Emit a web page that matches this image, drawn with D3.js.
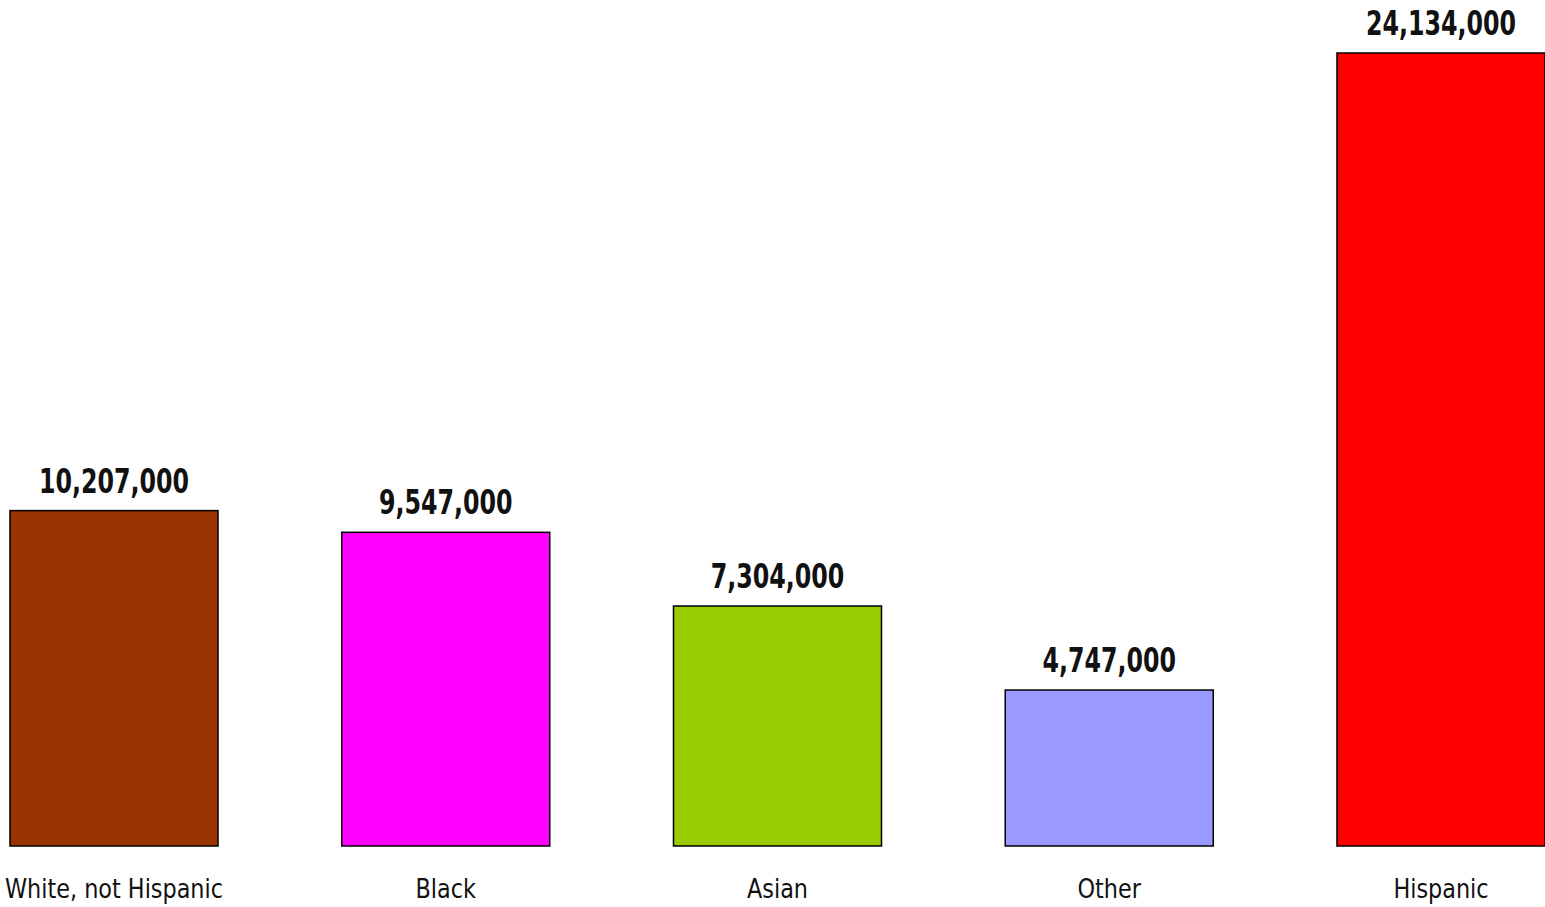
<!DOCTYPE html>
<html><head><meta charset="utf-8">
<script src="https://cdn.jsdelivr.net/npm/d3@7"></script>
<style>html,body{margin:0;padding:0;background:#fff;}svg{display:block;}</style>
</head><body>
<svg id="chart" width="1545" height="907"></svg>
<script>
const categories = ["White, not Hispanic", "Black", "Asian", "Other", "Hispanic"];
const values = [10207000, 9547000, 7304000, 4747000, 24134000];
const colors = ["#993300", "#ff00ff", "#99cc00", "#9999ff", "#ff0000"];

const svg = d3.select("#chart");
const baseY = 846, topY = 53;
const x = d3.scaleBand().domain(categories).range([10, 1545]).paddingInner(0.373).paddingOuter(0);
const y = d3.scaleLinear().domain([0, 24134000]).range([baseY, topY]);
const data = categories.map((c, i) => ({c, v: values[i], col: colors[i]}));
const fmt = d3.format(",");
const font = "'DejaVu Sans Condensed', 'DejaVu Sans', sans-serif";

svg.selectAll("rect.bar").data(data).join("rect")
  .attr("class", "bar")
  .attr("x", d => x(d.c)).attr("width", x.bandwidth())
  .attr("y", d => y(d.v)).attr("height", d => baseY - y(d.v))
  .attr("fill", d => d.col).attr("stroke", "#000").attr("stroke-width", 1.5);

svg.selectAll("text.val").data(data).join("text")
  .attr("class", "val")
  .attr("transform", d => `translate(${x(d.c) + x.bandwidth() / 2},${y(d.v) - 18}) scale(0.8,1)`)
  .attr("text-anchor", "middle")
  .attr("font-family", font).attr("font-weight", "bold").attr("font-size", 33)
  .attr("fill", "#111")
  .text(d => fmt(d.v));

svg.selectAll("text.cat").data(data).join("text")
  .attr("class", "cat")
  .attr("transform", d => `translate(${x(d.c) + x.bandwidth() / 2},898) scale(0.92,1)`)
  .attr("text-anchor", "middle")
  .attr("font-family", font).attr("font-size", 27)
  .attr("fill", "#111")
  .text(d => d.c);
</script>
</body></html>
